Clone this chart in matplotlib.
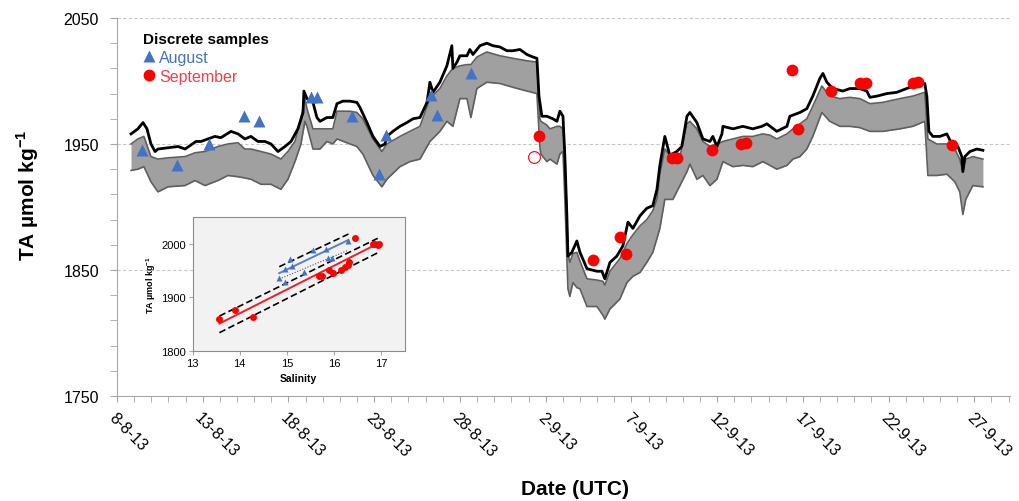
import numpy as np
import matplotlib.pyplot as plt
from matplotlib.lines import Line2D

plt.rcParams['font.family'] = ['Liberation Sans', 'DejaVu Sans']
plt.rcParams['mathtext.fontset'] = 'custom'
plt.rcParams['mathtext.rm'] = 'Liberation Sans'
plt.rcParams['mathtext.bf'] = 'Liberation Sans:bold'

# continuous TA record (days since 8-8-13 00:00 UTC)
ta_day = [0.82, 1.22, 1.52, 1.75, 1.98, 2.22, 2.39, 2.97, 3.56, 3.97,
          4.61, 4.90, 5.31, 5.71, 6.06, 6.65, 7.06, 7.46, 7.81, 8.22,
          8.63, 8.98, 9.39, 9.80, 10.15, 10.55, 10.85, 10.90, 11.08, 11.43,
          11.66, 11.84, 12.24, 12.59, 12.83, 13.18, 13.59, 13.99, 14.17, 14.58,
          14.93, 15.34, 15.63, 15.74, 16.09, 16.50, 16.91, 17.26, 17.67, 18.08,
          18.25, 18.43, 18.83, 19.24, 19.53, 19.59, 19.83, 20.00, 20.41, 20.58,
          20.76, 21.17, 21.57, 21.92, 22.33, 22.74, 23.09, 23.50, 23.91, 24.26,
          24.49, 24.61, 24.78, 25.07, 25.42, 25.66, 25.83, 26.01, 26.12, 26.24,
          26.30, 26.53, 26.82, 27.00, 27.41, 27.99, 28.28, 28.45, 28.75, 29.15,
          29.50, 29.80, 30.09, 30.50, 30.90, 31.25, 31.49, 31.66, 31.95, 32.24,
          32.65, 32.94, 33.24, 33.41, 33.82, 34.17, 34.58, 34.75, 34.99, 35.28,
          35.34, 35.92, 36.50, 37.08, 37.61, 37.90, 38.48, 39.07, 39.24, 39.83,
          40.23, 40.58, 40.99, 41.17, 41.40, 41.75, 42.33, 42.74, 43.32, 43.73,
          43.91, 44.32, 44.90, 45.48, 46.06, 46.82, 47.11, 47.23, 47.35, 47.58,
          47.99, 48.40, 48.75, 49.04, 49.27, 49.33, 49.45, 49.74, 50.15, 50.50]
ta_val = [1958, 1962, 1967, 1962, 1950, 1944, 1946, 1947, 1948, 1946,
          1952, 1952, 1954, 1956, 1955, 1960, 1958, 1954, 1956, 1952,
          1952, 1950, 1944, 1948, 1952, 1962, 1975, 1992, 1986, 1983,
          1971, 1968, 1971, 1971, 1982, 1984, 1984, 1983, 1979, 1967,
          1956, 1948, 1950, 1956, 1960, 1964, 1967, 1970, 1971, 1983,
          1999, 1991, 1999, 2012, 2028, 2010, 2015, 2020, 2020, 2025,
          2021, 2028, 2030, 2028, 2027, 2024, 2024, 2025, 2021, 2019,
          2018, 1988, 1972, 1972, 1970, 1968, 1976, 1972, 1940, 1892,
          1861, 1864, 1873, 1864, 1851, 1849, 1849, 1843, 1856, 1861,
          1869, 1888, 1883, 1893, 1899, 1901, 1914, 1933, 1956, 1941,
          1944, 1948, 1972, 1975, 1967, 1954, 1952, 1956, 1948, 1958,
          1964, 1962, 1964, 1962, 1964, 1966, 1960, 1964, 1972, 1975,
          1978, 1988, 2002, 2006, 1999, 1994, 1992, 1994, 1994, 1992,
          1987, 1988, 1990, 1991, 1994, 1998, 1998, 1988, 1960, 1956,
          1956, 1958, 1948, 1948, 1940, 1928, 1940, 1944, 1946, 1945]

# grey band (salinity-derived TA range)
band_day = [0.82, 1.22, 1.57, 1.98, 2.39, 2.97, 3.97, 4.55, 5.13, 5.89,
            6.47, 7.06, 7.46, 7.81, 8.40, 8.98, 9.56, 9.97, 10.38, 10.73,
            10.96, 11.08, 11.43, 11.84, 12.24, 12.59, 12.83, 13.59, 13.99, 14.34,
            14.93, 15.45, 15.74, 16.50, 17.08, 17.67, 18.25, 18.83, 19.24, 19.59,
            20.00, 20.41, 20.64, 20.99, 21.57, 22.33, 23.09, 23.91, 24.49, 24.66,
            24.72, 25.07, 25.25, 25.66, 25.83, 26.01, 26.12, 26.30, 26.41, 26.59,
            26.82, 27.00, 27.41, 27.99, 28.34, 28.45, 28.75, 29.33, 29.74, 30.09,
            30.50, 30.90, 31.25, 31.49, 31.66, 31.95, 32.42, 32.83, 33.24, 33.41,
            33.82, 34.17, 34.58, 34.99, 35.34, 35.92, 36.50, 37.08, 37.67, 38.08,
            38.48, 39.07, 39.42, 39.83, 40.23, 40.58, 41.11, 41.57, 42.16, 42.74,
            43.32, 43.91, 44.66, 45.66, 46.41, 47.11, 47.29, 47.81, 48.40, 48.86,
            49.15, 49.33, 49.50, 49.91, 50.50]
band_lo = [1929, 1930, 1932, 1920, 1912, 1916, 1917, 1921, 1917, 1921,
           1925, 1924, 1923, 1922, 1918, 1918, 1914, 1922, 1936, 1950,
           1968, 1964, 1946, 1946, 1952, 1950, 1954, 1950, 1948, 1942,
           1925, 1916, 1922, 1932, 1936, 1938, 1952, 1960, 1968, 1964,
           1986, 1986, 1971, 1994, 1999, 1998, 1995, 1992, 1990, 1948,
           1942, 1936, 1938, 1934, 1942, 1944, 1906, 1835, 1829, 1840,
           1836, 1835, 1821, 1821, 1814, 1811, 1819, 1827, 1840, 1845,
           1848, 1856, 1864, 1875, 1883, 1906, 1906, 1917, 1928, 1934,
           1922, 1925, 1917, 1922, 1936, 1932, 1933, 1932, 1936, 1933,
           1930, 1933, 1938, 1940, 1946, 1956, 1975, 1968, 1964, 1964,
           1963, 1960, 1960, 1962, 1964, 1968, 1925, 1925, 1926, 1920,
           1912, 1894, 1906, 1917, 1916]
band_hi = [1950, 1954, 1956, 1940, 1938, 1939, 1940, 1943, 1944, 1948,
           1950, 1951, 1946, 1946, 1944, 1942, 1938, 1944, 1952, 1970,
           1986, 1978, 1962, 1962, 1962, 1962, 1976, 1976, 1975, 1970,
           1954, 1944, 1950, 1956, 1960, 1964, 1986, 1994, 2004, 2010,
           2012, 2013, 2013, 2019, 2023, 2020, 2018, 2016, 2015, 1970,
           1968, 1965, 1962, 1964, 1964, 1962, 1946, 1863, 1856, 1863,
           1864, 1857, 1843, 1842, 1841, 1838, 1849, 1859, 1871, 1878,
           1885, 1890, 1897, 1906, 1926, 1946, 1938, 1940, 1966, 1968,
           1962, 1952, 1948, 1950, 1952, 1954, 1956, 1956, 1958, 1957,
           1954, 1958, 1962, 1966, 1970, 1980, 1996, 1988, 1986, 1987,
           1986, 1982, 1983, 1986, 1988, 1991, 1954, 1950, 1950, 1946,
           1938, 1928, 1938, 1940, 1938]

# discrete samples
aug_day = [1.44, 3.48, 5.38, 7.41, 8.30, 11.29, 11.68, 13.69, 15.67, 15.29, 18.31, 18.64, 20.64]
aug_ta = [1945, 1933, 1950, 1972, 1968, 1987, 1987, 1972, 1957, 1926, 1989, 1973, 2006]
sep_day = [24.62, 27.74, 29.33, 29.66, 32.34, 32.64, 34.71, 36.37, 36.68, 39.38,
           39.69, 41.63, 43.36, 43.71, 46.40, 46.69, 48.67]
sep_ta = [1956, 1858, 1876, 1863, 1939, 1939, 1945, 1950, 1951, 2009,
          1962, 1992, 1998, 1998, 1998, 1999, 1949]
open_day = [24.31]
open_ta = [1940]

tick_days = [0, 5, 10, 15, 20, 25, 30, 35, 40, 45, 50]
tick_labels = ['8-8-13', '13-8-13', '18-8-13', '23-8-13', '28-8-13', '2-9-13',
               '7-9-13', '12-9-13', '17-9-13', '22-9-13', '27-9-13']

# inset: TA vs salinity
sal_aug = [14.84, 14.96, 14.96, 15.07, 15.11, 15.36, 15.55, 15.84, 15.88, 15.96, 16.31]
ta_aug_s = [1936, 1952, 1928, 1971, 1959, 1948, 1988, 1990, 1974, 1974, 2005]
sal_sep = [13.57, 13.91, 14.29, 15.68, 15.74, 15.89, 15.99, 16.16, 16.24, 16.29,
           16.32, 16.44, 16.82, 16.88, 16.93, 16.95]
ta_sep_s = [1859, 1877, 1864, 1940, 1940, 1951, 1946, 1951, 1956, 1960,
            1965, 2010, 1999, 2000, 1998, 2000]
sep_fit_sal = [13.57, 16.93]
sep_fit = [1851, 2000]
sep_fit_hi = [1865, 2010]
sep_fit_lo = [1834, 1983]
aug_fit_sal = [14.84, 16.31]
aug_fit = [1945, 2007]
aug_fit_hi = [1957, 2018]
aug_fit_lo = [1934, 1988]

blue = '#4472C4'
red = '#FF0000'
axcol = '#A6A6A6'

fig = plt.figure(figsize=(10.19, 5.02), dpi=100)
ax = fig.add_axes([0.1148, 0.2092, 0.8762, 0.7530])

for v in [1850, 1950, 2050]:
    ax.axhline(v, color='#C8C8C8', lw=0.8, ls=(0, (3, 2)), zorder=0)

ax.fill_between(band_day, band_lo, band_hi, color='#A0A0A0', lw=0, zorder=1)
ax.plot(band_day, band_lo, color='#5F5F5F', lw=1.2, zorder=2)
ax.plot(band_day, band_hi, color='#5F5F5F', lw=1.2, zorder=2)
ax.plot(ta_day, ta_val, color='black', lw=2, zorder=3)

ax.plot(aug_day, aug_ta, '^', color=blue, ms=9, mec='none', zorder=4)
ax.plot(sep_day, sep_ta, 'o', color=red, ms=8.5, mec='none', zorder=4)
ax.plot(open_day, open_ta, 'o', mfc='none', mec=red, ms=8.5, mew=0.8, zorder=4)

ax.set_xlim(0, 52.07)
ax.set_ylim(1750, 2050)
ax.set_xticks(tick_days)
ax.set_xticklabels(tick_labels, rotation=-45, ha='left', va='top',
                   rotation_mode='anchor', fontsize=11.5)
ax.set_xticks(np.arange(0, 53, 1), minor=True)
ax.set_yticks([1750, 1850, 1950, 2050])
ax.set_yticks(np.arange(1750, 2051, 20), minor=True)
ax.tick_params(axis='y', labelsize=11.5, colors=axcol, labelcolor='black',
               direction='out', length=5, pad=8, which='both')
ax.tick_params(axis='x', colors=axcol, labelcolor='black', direction='out',
               length=4, pad=6, which='both')
for s in ['top', 'right']:
    ax.spines[s].set_visible(False)
for s in ['left', 'bottom']:
    ax.spines[s].set_color(axcol)

handles = [Line2D([], [], marker='^', ls='none', color=blue, ms=9, mec='none'),
           Line2D([], [], marker='o', ls='none', color=red, ms=8.5, mec='none')]
leg = ax.legend(handles, ['August', 'September'], title='Discrete samples',
                loc='upper left', bbox_to_anchor=(0.022, 0.98), frameon=False,
                fontsize=11.5, handlelength=0.8, handletextpad=0.2,
                labelspacing=0.25, borderaxespad=0, alignment='left',
                labelcolor=[blue, '#F0404A'],
                title_fontproperties={'weight': 'bold', 'size': 11})

fig.text(0.027, 0.61, 'TA µmol kg$^{\\mathbf{-1}}$', rotation=90, fontsize=15,
         fontweight='bold', ha='center', va='center')
fig.text(0.564, 0.025, 'Date (UTC)', fontsize=15, fontweight='bold',
         ha='center', va='center')

# inset
ax2 = fig.add_axes([0.189, 0.299, 0.208, 0.267])
ax2.set_facecolor('#F2F2F2')
ax2.plot(sep_fit_sal, sep_fit_hi, color='black', lw=1.2, ls=(0, (4, 2)))
ax2.plot(sep_fit_sal, sep_fit_lo, color='black', lw=1.2, ls=(0, (4, 2)))
ax2.plot(sep_fit_sal, sep_fit, color='#E8202A', lw=1.4)
ax2.plot(aug_fit_sal, aug_fit_hi, color='black', lw=1.2, ls=(0, (4, 2)))
ax2.plot(aug_fit_sal, aug_fit_lo, color='#555555', lw=0.8, ls=(0, (1, 1.5)))
ax2.plot(aug_fit_sal, aug_fit, color='#5B7FC8', lw=1.4)
ax2.plot(sal_aug, ta_aug_s, '^', color=blue, ms=4.5, mec='none')
ax2.plot(sal_sep, ta_sep_s, 'o', color=red, ms=5, mec='none')
ax2.set_xlim(13, 17.5)
ax2.set_ylim(1800, 2050)
ax2.set_xticks([13, 14, 15, 16, 17])
ax2.set_yticks([1800, 1900, 2000])
ax2.tick_params(labelsize=8, colors=axcol, labelcolor='black', length=3, pad=2)
for s in ax2.spines.values():
    s.set_color('#8C8C8C')
    s.set_linewidth(0.8)
ax2.set_xlabel('Salinity', fontsize=7.5, fontweight='bold', labelpad=4)
ax2.set_ylabel('TA µmol kg$^{\\mathbf{-1}}$', fontsize=6.5, fontweight='bold', labelpad=2)

fig.savefig('out.png', dpi=100)
